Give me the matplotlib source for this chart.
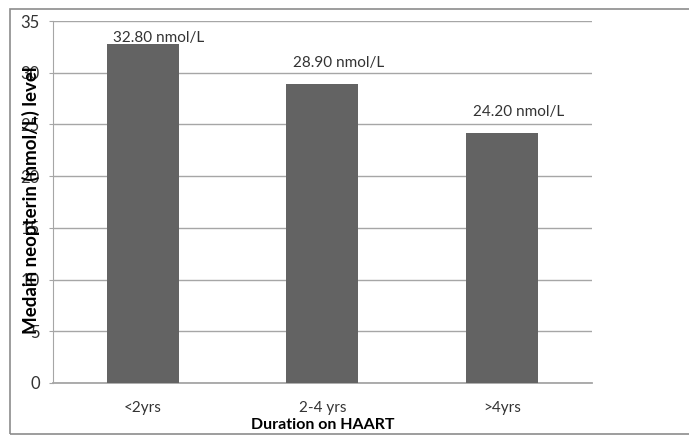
import matplotlib
matplotlib.use("Agg")
import matplotlib.pyplot as plt
from matplotlib.patches import Rectangle

# ################### DATA ####################
categories = ["<2yrs", "2-4 yrs", ">4yrs"]
neopterin = [32.8, 28.9, 24.2]
value_labels = ["32.80 nmol/L", "28.90 nmol/L", "24.20 nmol/L"]
label_lift = [-1, 10, 10]   # points above bar top
y_ticks = [0, 5, 10, 15, 20, 25, 30, 35]

BAR_COLOR = "#636363"
GRID_COLOR = "#a6a6a6"
TEXT_COLOR = "#333333"

plt.rcParams["font.family"] = ["Lato", "DejaVu Sans"]

fig = plt.figure(figsize=(6.89, 4.36), dpi=100)
ax = fig.add_axes([0.0769, 0.1216, 0.782, 0.8302])

# outer chart frame (open on the right, like the source)
fig.patches.append(Rectangle((0.0145, 0.004), 1.5, 0.975, transform=fig.transFigure,
                             fill=False, edgecolor="#8c8c8c", linewidth=1.2))

x = range(len(categories))
ax.bar(x, neopterin, width=0.4, color=BAR_COLOR, zorder=3)

for i, (v, lab) in enumerate(zip(neopterin, value_labels)):
    ax.annotate(lab, (i + 0.09, v), xytext=(0, label_lift[i]), textcoords="offset points",
                ha="center", va="bottom", fontsize=11, color=TEXT_COLOR, zorder=4)

ax.set_xlim(-0.5, 2.5)
ax.set_ylim(0, 35)
ax.set_yticks(y_ticks)
ax.set_xticks(list(x))
ax.set_xticklabels(categories)

ax.grid(axis="y", color=GRID_COLOR, linewidth=1, zorder=0)
for s in ["top", "right"]:
    ax.spines[s].set_visible(False)
ax.spines["left"].set_color(GRID_COLOR)
ax.spines["bottom"].set_color(GRID_COLOR)
ax.spines["bottom"].set_linewidth(1.3)

ax.tick_params(axis="y", length=3, pad=6.5, color=GRID_COLOR, labelsize=12, labelcolor=TEXT_COLOR)
ax.tick_params(axis="x", length=0, pad=13, labelsize=11, labelcolor=TEXT_COLOR)

ax.set_xlabel("Duration on HAART", fontsize=11.5, fontweight="bold", labelpad=2)
ax.set_ylabel("Medain neopterin (nmol/L) level", fontsize=13.5, fontweight="bold")
ax.yaxis.set_label_coords(-0.024, 0.505)

fig.savefig("out.png", dpi=100)
